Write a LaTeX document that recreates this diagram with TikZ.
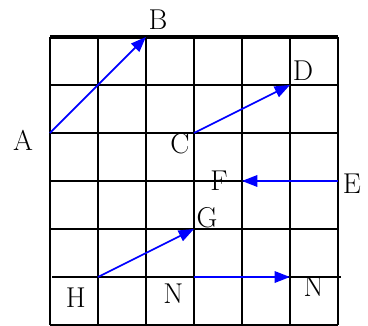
\documentclass[tikz,border=0pt]{standalone}
\usetikzlibrary{arrows.meta}
\begin{document}
\begin{tikzpicture}[x=1cm,y=1cm,
  gridline/.style={black,line width=1.1pt},
  vec/.style={blue,line width=1pt,-{Triangle[length=0.32cm,width=0.24cm]}},
  lbl/.style={inner sep=0pt,font=\fontsize{17}{20}\selectfont}]
\useasboundingbox (-1.04,-0.02) rectangle (6.625,6.77);
% grid
\foreach \i in {0,...,6} {\draw[gridline] (\i,0) -- (\i,6);}
\foreach \j in {0,2,3,4,5} {\draw[gridline] (0,\j) -- (6,\j);}
\draw[gridline] (0.05,1) -- (6.07,1);
\draw[black,line width=2pt] (0,6) -- (6,6);
% points
\coordinate (A) at (0,4);
\coordinate (B) at (2,6);
\coordinate (C) at (3,4);
\coordinate (D) at (5,5);
\coordinate (E) at (6,3);
\coordinate (F) at (4,3);
\coordinate (H) at (1,1);
\coordinate (G) at (3,2);
\coordinate (N1) at (3,1);
\coordinate (N2) at (5,1);
% vectors
\draw[vec] (A) -- (B);
\draw[vec] (C) -- (D);
\draw[vec] (E) -- (F);
\draw[vec] (H) -- (G);
\draw[vec] (N1) -- (N2);
% labels
\node[lbl] (lB) at (2.25,6.36) {B};
\node[lbl] (lA) at (-0.56,3.84) {A};
\node[lbl] (lC) at (2.71,3.78) {C};
\node[lbl] (lD) at (5.27,5.29) {D};
\node[lbl] (lF) at (3.52,3.0) {F};
\node[lbl] (lE) at (6.29,2.95) {E};
\node[lbl] (lG) at (3.27,2.23) {G};
\node[lbl] (lH) at (0.54,0.56) {H};
\node[lbl] (lN1) at (2.57,0.66) {N};
\node[lbl] (lN2) at (5.49,0.80) {N};
\end{tikzpicture}
\end{document}
